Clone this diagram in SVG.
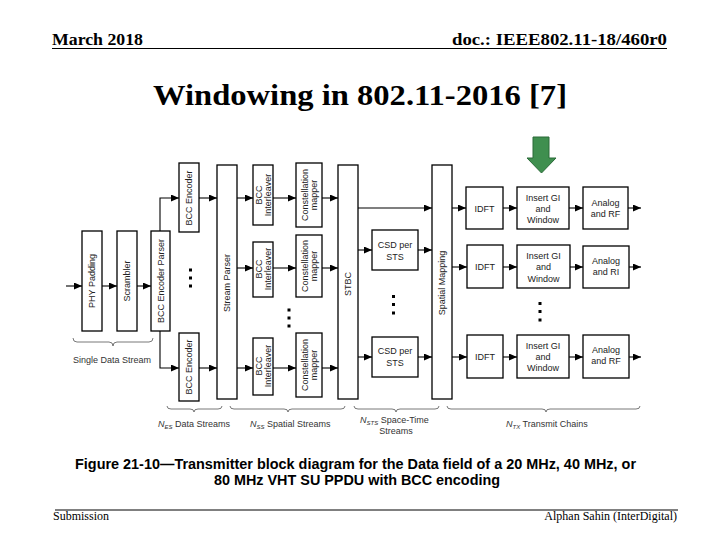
<svg xmlns="http://www.w3.org/2000/svg" width="720" height="540" viewBox="0 0 720 540">
<style>
.hdr{font-family:"Liberation Serif","Times New Roman",serif;font-weight:bold;fill:#000}
.ftr{font-family:"Liberation Serif","Times New Roman",serif;font-size:12px;fill:#000}
.box{fill:#fff;stroke:#000;stroke-width:1.3}
.t{font-family:"Liberation Sans",Arial,sans-serif;font-size:9px;fill:#222;text-anchor:middle}
.lbl{font-family:"Liberation Sans",Arial,sans-serif;font-size:9px;fill:#333}
.cap{font-family:"Liberation Sans",Arial,sans-serif;font-size:14px;font-weight:bold;fill:#000}
.c{fill:none;stroke:#000;stroke-width:1.1;marker-end:url(#ah)}
.br{fill:none;stroke:#555;stroke-width:0.8}
.dot{fill:#000}
</style>
<defs>
<marker id="ah" markerWidth="8" markerHeight="7" refX="8" refY="3.5" orient="auto" markerUnits="userSpaceOnUse"><path d="M0,0 L8,3.5 L0,7 z" fill="#000"/></marker>
</defs>
<rect width="720" height="540" fill="#fff"/>

<g id="header">
<text class="hdr" x="52" y="45" font-size="17" textLength="91" lengthAdjust="spacingAndGlyphs">March 2018</text>
<text class="hdr" x="452" y="45" font-size="17" textLength="215" lengthAdjust="spacingAndGlyphs">doc.: IEEE802.11-18/460r0</text>
<line x1="52" y1="48.5" x2="667" y2="48.5" stroke="#000" stroke-width="1"/>
</g>
<g id="title">
<text class="hdr" x="153" y="105" font-size="30" textLength="414" lengthAdjust="spacingAndGlyphs">Windowing in 802.11-2016 [7]</text>
</g>
<g id="green-arrow">
<polygon points="533,137 549,137 549,158 556,158 541.5,173 527,158 533,158" fill="#3f8f4f" stroke="#2a6a38" stroke-width="1"/>
</g>

<g id="connectors">
<path class="c" d="M66,286 H82"/>
<path class="c" d="M102,286 H117"/>
<path class="c" d="M137,286 H151"/>
<path class="c" d="M160,231 V198 H179"/>
<path class="c" d="M160,331 V368 H179"/>
<path class="c" d="M199,198 H217"/>
<path class="c" d="M199,368 H217"/>
<path class="c" d="M237,198 H253"/>
<path class="c" d="M237,268 H253"/>
<path class="c" d="M237,368 H253"/>
<path class="c" d="M273,198 H296"/>
<path class="c" d="M273,268 H296"/>
<path class="c" d="M273,368 H296"/>
<path class="c" d="M322,198 H338"/>
<path class="c" d="M322,268 H338"/>
<path class="c" d="M322,368 H338"/>
<path class="c" d="M358,208 H432"/>
<path class="c" d="M358,250 H372"/>
<path class="c" d="M418,250 H432"/>
<path class="c" d="M358,357 H372"/>
<path class="c" d="M418,357 H432"/>
<path class="c" d="M452,208 H466"/>
<path class="c" d="M452,267 H467"/>
<path class="c" d="M452,357 H467"/>
<path class="c" d="M503,208 H517"/>
<path class="c" d="M503,267 H517"/>
<path class="c" d="M503,357 H517"/>
<path class="c" d="M569,208 H583"/>
<path class="c" d="M570,267 H583"/>
<path class="c" d="M569,357 H583"/>
<path class="c" d="M628,208 H641"/>
<path class="c" d="M629,267 H641"/>
<path class="c" d="M629,357 H641"/>
</g>

<g id="phy-padding"><rect class="box" x="82" y="231" width="20" height="100"/><text class="t" transform="translate(95,281) rotate(-90)">PHY Padding</text></g>
<g id="scrambler"><rect class="box" x="117" y="231" width="20" height="100"/><text class="t" transform="translate(130,281) rotate(-90)">Scrambler</text></g>
<g id="bcc-encoder-parser"><rect class="box" x="151" y="231" width="19" height="100"/><text class="t" transform="translate(164,281) rotate(-90)">BCC Encoder Parser</text></g>
<g id="bcc-encoder-1"><rect class="box" x="179" y="163" width="20" height="69"/><text class="t" transform="translate(192,198) rotate(-90)">BCC Encoder</text></g>
<g id="bcc-encoder-2"><rect class="box" x="179" y="333" width="20" height="68"/><text class="t" transform="translate(192,367) rotate(-90)">BCC Encoder</text></g>
<g id="stream-parser"><rect class="box" x="217" y="165" width="20" height="234"/><text class="t" transform="translate(230,283) rotate(-90)">Stream Parser</text></g>

<g id="bcc-interleaver-1"><rect class="box" x="253" y="165" width="20" height="60"/><text class="t" transform="translate(262,195) rotate(-90)">BCC</text><text class="t" transform="translate(271,195) rotate(-90)">Interleaver</text></g>
<g id="bcc-interleaver-2"><rect class="box" x="253" y="242" width="20" height="55"/><text class="t" transform="translate(262,269) rotate(-90)">BCC</text><text class="t" transform="translate(271,269) rotate(-90)">Interleaver</text></g>
<g id="bcc-interleaver-3"><rect class="box" x="253" y="338" width="20" height="57"/><text class="t" transform="translate(262,366) rotate(-90)">BCC</text><text class="t" transform="translate(271,366) rotate(-90)">Interleaver</text></g>

<g id="constellation-mapper-1"><rect class="box" x="296" y="163" width="26" height="64"/><text class="t" transform="translate(307.5,195) rotate(-90)">Constellation</text><text class="t" transform="translate(316.5,195) rotate(-90)">mapper</text></g>
<g id="constellation-mapper-2"><rect class="box" x="296" y="235" width="26" height="62"/><text class="t" transform="translate(307.5,266) rotate(-90)">Constellation</text><text class="t" transform="translate(316.5,266) rotate(-90)">mapper</text></g>
<g id="constellation-mapper-3"><rect class="box" x="296" y="333" width="26" height="64"/><text class="t" transform="translate(307.5,365) rotate(-90)">Constellation</text><text class="t" transform="translate(316.5,365) rotate(-90)">mapper</text></g>

<g id="stbc"><rect class="box" x="338" y="165" width="20" height="234"/><text class="t" transform="translate(351,284) rotate(-90)">STBC</text></g>
<g id="csd-1"><rect class="box" x="372" y="230" width="46" height="40"/><text class="t" x="395" y="248">CSD per</text><text class="t" x="395" y="260">STS</text></g>
<g id="csd-2"><rect class="box" x="372" y="337" width="46" height="40"/><text class="t" x="395" y="354">CSD per</text><text class="t" x="395" y="366">STS</text></g>
<g id="spatial-mapping"><rect class="box" x="432" y="165" width="20" height="234"/><text class="t" transform="translate(445,283) rotate(-90)">Spatial Mapping</text></g>

<g id="idft-1"><rect class="box" x="466" y="187" width="37" height="42"/><text class="t" x="484.5" y="211.5">IDFT</text></g>
<g id="insert-gi-1"><rect class="box" x="517" y="187" width="52" height="42"/><text class="t" x="543" y="200.5">Insert GI</text><text class="t" x="543" y="211.5">and</text><text class="t" x="543" y="223">Window</text></g>
<g id="analog-rf-1"><rect class="box" x="583" y="187" width="45" height="42"/><text class="t" x="605.5" y="206">Analog</text><text class="t" x="605.5" y="216.5">and RF</text></g>

<g id="idft-2"><rect class="box" x="467" y="245" width="36" height="43"/><text class="t" x="485" y="270">IDFT</text></g>
<g id="insert-gi-2"><rect class="box" x="517" y="245" width="53" height="43"/><text class="t" x="543.5" y="259">Insert GI</text><text class="t" x="543.5" y="270">and</text><text class="t" x="543.5" y="281.5">Window</text></g>
<g id="analog-rf-2"><rect class="box" x="583" y="246" width="46" height="42"/><text class="t" x="606" y="264">Analog</text><text class="t" x="606" y="275">and RI</text></g>

<g id="idft-3"><rect class="box" x="467" y="335" width="36" height="43"/><text class="t" x="485" y="360">IDFT</text></g>
<g id="insert-gi-3"><rect class="box" x="517" y="335" width="52" height="43"/><text class="t" x="543" y="348.5">Insert GI</text><text class="t" x="543" y="359.5">and</text><text class="t" x="543" y="371">Window</text></g>
<g id="analog-rf-3"><rect class="box" x="583" y="335" width="46" height="43"/><text class="t" x="606" y="353">Analog</text><text class="t" x="606" y="364">and RF</text></g>

<g id="ellipses">
<rect class="dot" x="189" y="268.5" width="3" height="3"/><rect class="dot" x="189" y="276.5" width="3" height="3"/><rect class="dot" x="189" y="284.5" width="3" height="3"/>
<rect class="dot" x="287.5" y="308.5" width="3" height="3"/><rect class="dot" x="287.5" y="316.5" width="3" height="3"/><rect class="dot" x="287.5" y="324.5" width="3" height="3"/>
<rect class="dot" x="392" y="295" width="3" height="3"/><rect class="dot" x="392" y="303" width="3" height="3"/><rect class="dot" x="392" y="311.5" width="3" height="3"/>
<rect class="dot" x="538.5" y="302" width="3" height="3"/><rect class="dot" x="538.5" y="310" width="3" height="3"/><rect class="dot" x="538.5" y="318.5" width="3" height="3"/>
</g>

<g id="braces">
<path class="br" d="M73,338 Q73,342 77,342 L109,342 Q113,342 113,346 Q113,342 117,342 L149,342 Q153,342 153,338"/>
<path class="br" d="M167,406 Q167,409 171,409 L190,409 Q194,409 194,412 Q194,409 198,409 L218,409 Q222,409 222,406"/>
<path class="br" d="M230,406 Q230,409 234,409 L284,409 Q288,409 288,412 Q288,409 292,409 L341,409 Q345,409 345,406"/>
<path class="br" d="M354,406 Q354,409 358,409 L392,409 Q396,409 396,412 Q396,409 400,409 L435,409 Q439,409 439,406"/>
<path class="br" d="M447,406 Q447,409 451,409 L542,409 Q546,409 546,412 Q546,409 550,409 L636,409 Q640,409 640,406"/>
</g>

<g id="labels">
<text class="lbl" x="73" y="363">Single Data Stream</text>
<text class="lbl" x="158" y="427"><tspan font-style="italic">N</tspan><tspan font-style="italic" font-size="6" dy="2">ES</tspan><tspan dy="-2"> Data Streams</tspan></text>
<text class="lbl" x="250" y="427"><tspan font-style="italic">N</tspan><tspan font-style="italic" font-size="6" dy="2">SS</tspan><tspan dy="-2"> Spatial Streams</tspan></text>
<text class="lbl" x="360" y="423"><tspan font-style="italic">N</tspan><tspan font-style="italic" font-size="6" dy="2">STS</tspan><tspan dy="-2"> Space-Time</tspan></text>
<text class="lbl" x="396" y="434" text-anchor="middle">Streams</text>
<text class="lbl" x="506" y="427"><tspan font-style="italic">N</tspan><tspan font-style="italic" font-size="6" dy="2">TX</tspan><tspan dy="-2"> Transmit Chains</tspan></text>
</g>

<g id="caption">
<text class="cap" x="75" y="469" textLength="561" lengthAdjust="spacingAndGlyphs">Figure 21-10—Transmitter block diagram for the Data field of a 20 MHz, 40 MHz, or</text>
<text class="cap" x="214" y="485" textLength="286" lengthAdjust="spacingAndGlyphs">80 MHz VHT SU PPDU with BCC encoding</text>
</g>

<g id="footer">
<line x1="55" y1="510" x2="678" y2="510" stroke="#000" stroke-width="1"/>
<text class="ftr" x="53" y="520">Submission</text>
<text class="ftr" x="677" y="520" text-anchor="end">Alphan Sahin (InterDigital)</text>
</g>
</svg>
